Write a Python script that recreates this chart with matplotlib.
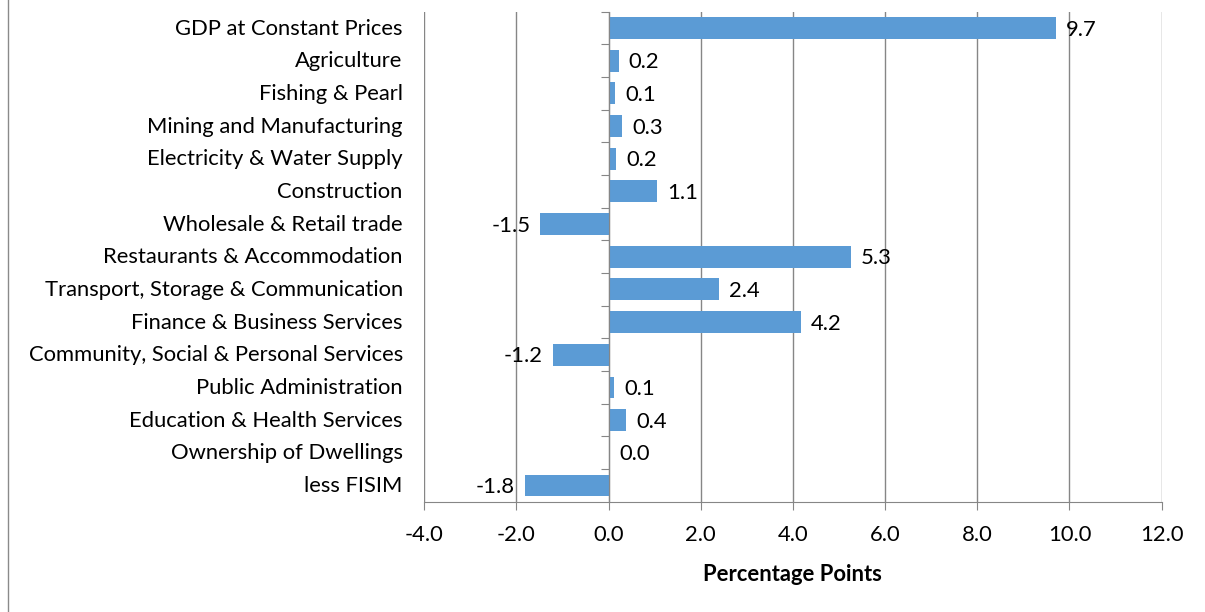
import matplotlib
matplotlib.use("Agg")
import matplotlib.pyplot as plt
import matplotlib.transforms as mtransforms
from matplotlib.lines import Line2D

categories = ["GDP at Constant Prices", "Agriculture", "Fishing & Pearl",
              "Mining and Manufacturing", "Electricity & Water Supply",
              "Construction", "Wholesale & Retail trade",
              "Restaurants & Accommodation",
              "Transport, Storage & Communication",
              "Finance & Business Services",
              "Community, Social & Personal Services",
              "Public Administration", "Education & Health Services",
              "Ownership of Dwellings", "less FISIM"]
values = [9.7, 0.22, 0.14, 0.3, 0.16, 1.06, -1.48, 5.26, 2.4, 4.18,
          -1.21, 0.12, 0.38, 0.02, -1.82]
xticks = [-4.0, -2.0, 0.0, 2.0, 4.0, 6.0, 8.0, 10.0, 12.0]

plt.rcParams['font.family'] = ['Lato', 'DejaVu Sans']
FS = 15.8

fig = plt.figure(figsize=(12.05, 6.12), dpi=100)
ax = fig.add_axes([0.352, 0.180, 0.612, 0.801])

n = len(categories)
ypos = list(range(n))
bar_color = "#5B9BD5"
ax.barh(ypos, values, height=0.67, color=bar_color, zorder=3)
ax.set_ylim(n - 0.5, -0.5)
ax.set_xlim(-4, 12)

grid_c = "#868686"
ax.set_xticks(xticks)
ax.set_xticklabels([f"{t:.1f}" for t in xticks], fontsize=FS)
ax.xaxis.grid(True, color=grid_c, linewidth=1, zorder=0)
ax.tick_params(axis='x', length=6, color=grid_c, pad=11)

for s in ["top", "right"]:
    ax.spines[s].set_visible(False)
ax.spines["bottom"].set_color(grid_c)
ax.spines["left"].set_position(("data", 0))
ax.spines["left"].set_color(grid_c)
ax.spines["left"].set_zorder(4)
ax.set_yticks([i - 0.5 for i in range(n)])
ax.set_yticklabels([])
ax.tick_params(axis='y', length=6, color=grid_c, direction='out')

trans = mtransforms.blended_transform_factory(ax.transAxes, ax.transData)
for i, c in enumerate(categories):
    ax.text(-0.029, i + 0.02, c, transform=trans, ha='right', va='center', fontsize=FS)

off = mtransforms.offset_copy(ax.transData, fig=fig, x=10, y=0, units='dots')
offn = mtransforms.offset_copy(ax.transData, fig=fig, x=-10, y=0, units='dots')
for i, v in enumerate(values):
    if v >= 0:
        ax.text(v, i + 0.05, f"{v:.1f}", transform=off, ha='left', va='center', fontsize=FS, zorder=5)
    else:
        ax.text(v, i + 0.05, f"{v:.1f}", transform=offn, ha='right', va='center', fontsize=FS, zorder=5)

ax.set_xlabel("Percentage Points", fontsize=FS, fontweight='bold', labelpad=13)

fig.add_artist(Line2D([8 / 1205, 8 / 1205], [0, 1], transform=fig.transFigure,
                      color="#8a8a8a", linewidth=1))

fig.savefig("out.png", dpi=100)
